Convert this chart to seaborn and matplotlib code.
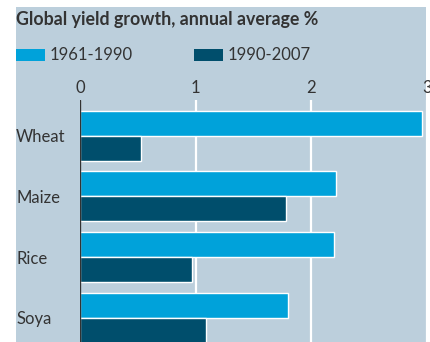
import matplotlib
matplotlib.use("Agg")
import matplotlib.pyplot as plt
import seaborn as sns
import pandas as pd
from matplotlib.patches import Rectangle

crops = ["Wheat", "Maize", "Rice", "Soya"]
early = [2.96, 2.21, 2.20, 1.80]
late = [0.53, 1.78, 0.97, 1.09]
periods = ["1961-1990", "1990-2007"]
xticks = [0, 1, 2, 3]
title = "Global yield growth, annual average %"

df = pd.DataFrame({
    "crop": crops * 2,
    "growth": early + late,
    "period": [periods[0]] * len(crops) + [periods[1]] * len(crops),
})

sns.set_theme(style="white")
plt.rcParams["font.family"] = ["Lato", "DejaVu Sans"]

W, H = 430, 342
bg = "#bccfdc"
light = "#00a2da"
dark = "#004e6c"
text_c = "#333333"

fig = plt.figure(figsize=(W / 100, H / 100), dpi=100)
fig.patch.set_facecolor("white")

# background panel
fig.patches.append(Rectangle((16 / W, 0), (426 - 16) / W, (H - 7) / H,
                             transform=fig.transFigure, facecolor=bg,
                             edgecolor="none", zorder=-5))

ax = fig.add_axes([80 / W, 0, (427 - 80) / W, (H - 100) / H])
ax.set_zorder(2)
ax.set_facecolor("none")

sns.barplot(data=df, y="crop", x="growth", hue="period", order=crops,
            hue_order=periods, palette=[light, dark], width=0.82,
            orient="h", ax=ax, legend=False, saturation=1, zorder=3)

ax.set_xlim(0, 3)
ax.set_ylim(3.40, -0.588)
ax.set_xticks(xticks)
ax.set_xticklabels([str(t) for t in xticks])
ax.xaxis.tick_top()
ax.tick_params(axis="x", length=0, pad=3, labelsize=12, labelcolor=text_c)
ax.tick_params(axis="y", length=0, pad=46, labelsize=12, labelcolor=text_c)
for lbl in ax.get_yticklabels():
    lbl.set_horizontalalignment("left")
ax.set_xlabel("")
ax.set_ylabel("")
for s in ax.spines.values():
    s.set_visible(False)
ax.grid(axis="x", color="white", linewidth=1.6, zorder=1)
ax.set_axisbelow(True)
ax.axvline(0, color="#333333", linewidth=1.0, zorder=4)

# title
fig.text(16 / W, 1 - 19 / H, title, fontsize=12.8, fontweight="bold",
         color=text_c, va="center", ha="left", zorder=3)

# legend
for x0, col, lab in [(16, light, periods[0]), (194, dark, periods[1])]:
    fig.patches.append(Rectangle((x0 / W, 1 - 61 / H), 29 / W, 12 / H,
                                 transform=fig.transFigure, facecolor=col,
                                 edgecolor="none", zorder=3))
    fig.text((x0 + 34) / W, 1 - 55 / H, lab, fontsize=12, color=text_c,
             va="center", ha="left", zorder=3)

fig.savefig("out.png", dpi=100, facecolor="white")
